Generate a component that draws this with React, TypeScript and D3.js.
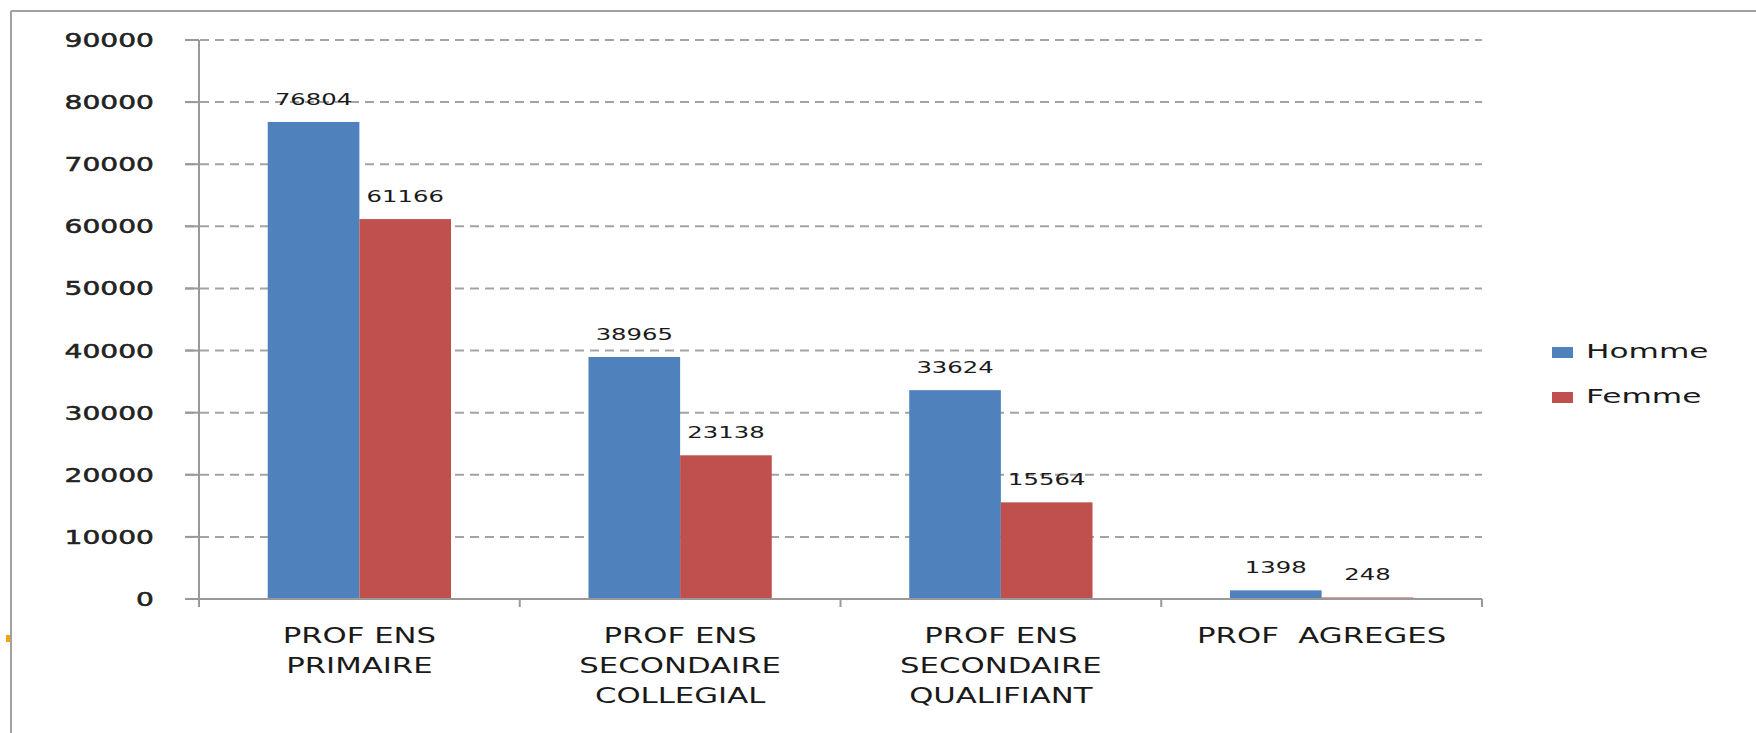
import React from 'react';
import * as d3 from 'd3';

// categories (each label broken into its lines)
const categories = ['PRIMAIRE', 'COLLEGIAL', 'QUALIFIANT', 'AGREGES'];
const categoryLines = [
  ['PROF ENS', 'PRIMAIRE'],
  ['PROF ENS', 'SECONDAIRE', 'COLLEGIAL'],
  ['PROF ENS', 'SECONDAIRE', 'QUALIFIANT'],
  ['PROF  AGREGES'],
];
const seriesNames = ['Homme', 'Femme'];
const homme = [76804, 38965, 33624, 1398];
const femme = [61166, 23138, 15564, 248];
const yTicks = [0, 10000, 20000, 30000, 40000, 50000, 60000, 70000, 80000, 90000];
const colors = ['#4f81bd', '#c0504d'];

const W = 1756;
const H = 733;
const plot = { left: 199, right: 1482, top: 40, bottom: 599 };

// the picture is stretched horizontally, so every text gets a scaleX
const SText: React.FC<{
  x: number; y: number; sx: number; size: number;
  anchor?: string; weight?: string; fill?: string; stroke?: number; children: React.ReactNode;
}> = ({ x, y, sx, size, anchor = 'middle', weight = 'normal', fill = '#1a1a1a', stroke = 0, children }) => (
  <text
    transform={`translate(${x},${y}) scale(${sx},1)`}
    textAnchor={anchor}
    fontSize={size}
    fontWeight={weight}
    fill={fill}
    stroke={stroke ? fill : 'none'}
    strokeWidth={stroke}
    fontFamily="'DejaVu Sans', Verdana, sans-serif"
    style={{ whiteSpace: 'pre' }}
  >
    {children}
  </text>
);

export default function App() {
  const x0 = d3.scaleBand().domain(categories).range([plot.left, plot.right]).padding(0);
  // Excel style gap width of 150%
  const bw = x0.bandwidth() / 3.5;
  const x1 = d3.scaleBand().domain(seriesNames).range([bw * 0.75, bw * 2.75]).padding(0);
  const y = d3.scaleLinear().domain([0, 90000]).range([plot.bottom, plot.top]);
  const series = [homme, femme];
  const boundaries = [plot.left, ...categories.map(c => (x0(c) as number) + x0.bandwidth())];

  return (
    <svg width={W} height={H} style={{ position: 'absolute', left: 0, top: 0, display: 'block', background: '#fff' }}>
      {/* outer frame */}
      <line x1={11} y1={11} x2={W} y2={11} stroke="#a0a0a0" strokeWidth={2} />
      <line x1={11} y1={11} x2={11} y2={H} stroke="#a0a0a0" strokeWidth={2} />
      <rect x={6} y={635} width={4} height={7} fill="#f5a31a" />

      {/* gridlines */}
      {yTicks.slice(1).map(t => (
        <line key={t} x1={plot.left - 14} x2={plot.right} y1={y(t)} y2={y(t)}
          stroke="#a3a3a3" strokeWidth={2} strokeDasharray="9,6" />
      ))}

      {/* bars */}
      {categories.map((c, i) => (
        <g key={c} transform={`translate(${x0(c)},0)`}>
          {series.map((s, j) => (
            <rect key={j} x={x1(seriesNames[j])} y={y(s[i])} width={x1.bandwidth()}
              height={plot.bottom - y(s[i])} fill={colors[j]} />
          ))}
        </g>
      ))}

      {/* axes */}
      <line x1={plot.left} x2={plot.left} y1={plot.top} y2={plot.bottom + 8} stroke="#999" strokeWidth={2} />
      <line x1={plot.left - 14} x2={plot.right} y1={plot.bottom} y2={plot.bottom} stroke="#999" strokeWidth={2} />
      {yTicks.slice(1).map(t => (
        <line key={t} x1={plot.left - 14} x2={plot.left} y1={y(t)} y2={y(t)} stroke="#999" strokeWidth={2} />
      ))}
      {boundaries.map((b, i) => (
        <line key={i} x1={b} x2={b} y1={plot.bottom} y2={plot.bottom + 8} stroke="#999" strokeWidth={2} />
      ))}

      {/* y tick labels */}
      {yTicks.map(t => (
        <SText key={t} x={154} y={y(t) + 7} sx={1.48} size={19} anchor="end" fill="#222" stroke={0.5}>
          {String(t)}
        </SText>
      ))}

      {/* value labels */}
      {categories.map((c, i) =>
        series.map((s, j) => (
          <SText key={c + j} x={(x0(c) as number) + (x1(seriesNames[j]) as number) + x1.bandwidth() / 2}
            y={y(s[i]) - 17} sx={1.52} size={16}>
            {String(s[i])}
          </SText>
        ))
      )}

      {/* category labels */}
      {categories.map((c, i) =>
        categoryLines[i].map((line, k) => (
          <SText key={c + k} x={(x0(c) as number) + x0.bandwidth() / 2} y={plot.bottom + 44 + k * 30}
            sx={1.5} size={20.5}>
            {line}
          </SText>
        ))
      )}

      {/* legend */}
      {seriesNames.map((n, j) => (
        <g key={n}>
          <rect x={1552} y={347 + j * 45} width={21} height={11} fill={colors[j]} />
          <SText x={1586} y={358 + j * 45} sx={1.56} size={20} anchor="start">{n}</SText>
        </g>
      ))}
    </svg>
  );
}
